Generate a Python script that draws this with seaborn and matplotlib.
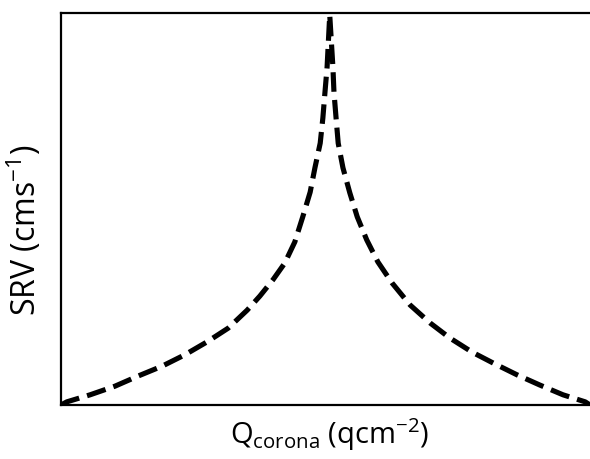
import matplotlib
matplotlib.use("Agg")
import matplotlib.pyplot as plt
import seaborn as sns
import pandas as pd

# Corona charge (arbitrary units, 0-100) and surface recombination velocity (arbitrary units)
q_left = [0.0, 1.1, 5.5, 10.2, 14.6, 19.1, 23.4, 27.6, 31.6, 35.2, 37.6, 40.1, 42.3,
          44.2, 45.7, 47.1, 48.0, 49.0, 49.5, 49.9, 50.3]
srv_left = [0.0, 0.8, 2.6, 4.8, 7.4, 9.9, 12.8, 16.1, 19.6, 24.2, 27.8, 32.0, 36.2,
            41.6, 48.0, 54.3, 60.5, 66.8, 73.2, 79.8, 86.2]
q_peak = [50.8]
srv_peak = [99.5]
q_right = [51.4, 51.6, 52.0, 52.4, 53.3, 54.6, 56.0, 57.8, 59.9, 62.6, 66.0, 69.8,
           73.5, 77.7, 81.7, 86.2, 90.5, 94.9, 99.1, 100.0]
srv_right = [86.2, 79.8, 73.2, 66.8, 60.5, 54.1, 48.0, 42.1, 36.5, 31.1, 25.5, 20.9,
             17.1, 13.5, 10.7, 7.7, 5.1, 2.6, 0.8, 0.0]

sns.set_style("white")
plt.rcParams["font.family"] = ["Open Sans", "DejaVu Sans"]
plt.rcParams["mathtext.default"] = "regular"
plt.rcParams["text.color"] = "black"
plt.rcParams["axes.labelcolor"] = "black"

df = pd.DataFrame({
    "Q": q_left + q_peak + q_right,
    "SRV": srv_left + srv_peak + srv_right,
})

fig = plt.figure(figsize=(5.9, 4.59), dpi=100)
ax = fig.add_axes([61 / 590, 54 / 459, 1 - 61 / 590, (405 - 13) / 459])

sns.lineplot(data=df, x="Q", y="SRV", sort=False, estimator=None, ax=ax,
             color="black", linewidth=3.7)
line = ax.get_lines()[0]
line.set_dashes((3.8, 1.6))
line.set_dash_capstyle("butt")
line.set_solid_joinstyle("round")

ax.set_xlim(0, 100)
ax.set_ylim(0, 100)
ax.set_xticks([])
ax.set_yticks([])
for side in ("left", "bottom", "top"):
    ax.spines[side].set_visible(True)
    ax.spines[side].set_color("black")
    ax.spines[side].set_linewidth(1.6)
ax.spines["right"].set_visible(False)

ax.set_xlabel("Q$_{corona}$ (qcm$^{-2}$)", fontsize=21)
ax.set_ylabel("SRV (cms$^{-1}$)", fontsize=23)
ax.xaxis.set_label_coords(0.508, -0.028)
ax.yaxis.set_label_coords(-0.032, 0.446)

fig.savefig("out.png", dpi=100)
